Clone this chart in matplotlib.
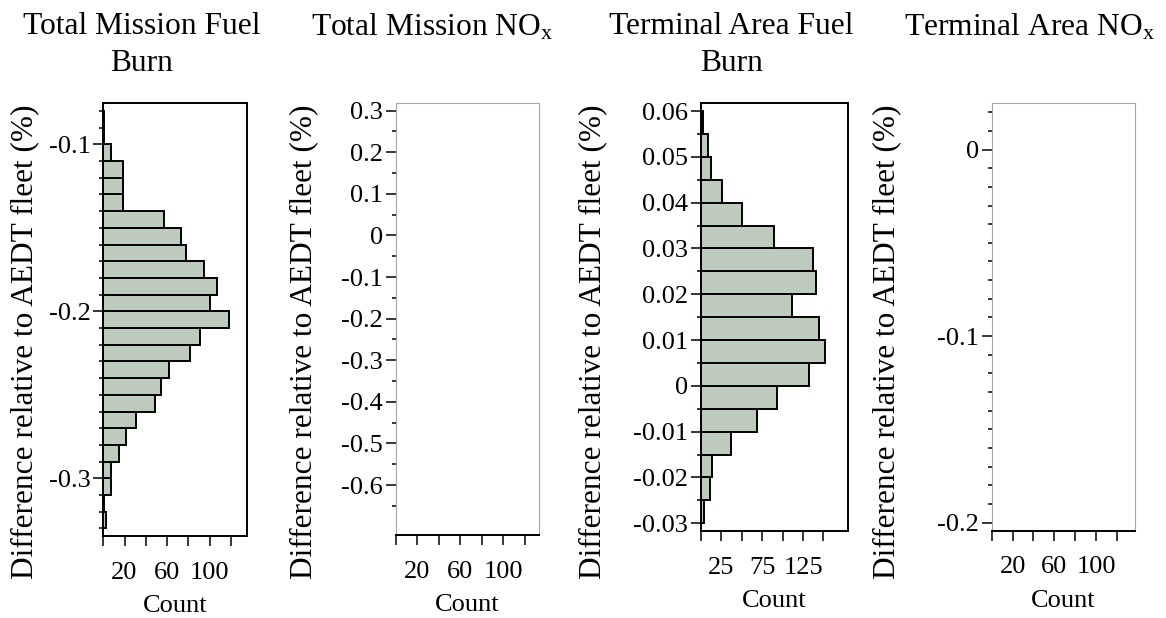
import matplotlib
matplotlib.use("Agg")
import matplotlib.pyplot as plt
from matplotlib.ticker import FixedLocator, FuncFormatter

plt.rcParams['font.family'] = ['Liberation Serif', 'DejaVu Serif']
plt.rcParams['mathtext.fontset'] = 'custom'
plt.rcParams['mathtext.rm'] = 'Liberation Serif'
plt.rcParams['mathtext.it'] = 'Liberation Serif:italic'
plt.rcParams['axes.unicode_minus'] = False

# ---- text -------------------------------------------------------------
titles = ["Total Mission Fuel\nBurn",
          "Total Mission NO$_{\\mathrm{x}}$",
          "Terminal Area Fuel\nBurn",
          "Terminal Area NO$_{\\mathrm{x}}$"]
ylabel_text = "Difference relative to AEDT fleet (%)"
xlabel_text = "Count"

# ---- data: histogram bins (lower edge, %) and counts -------------------
tm_fuel_edges = [-0.33, -0.32, -0.31, -0.30, -0.29, -0.28, -0.27, -0.26, -0.25,
                 -0.24, -0.23, -0.22, -0.21, -0.20, -0.19, -0.18, -0.17, -0.16,
                 -0.15, -0.14, -0.13, -0.12, -0.11, -0.10, -0.09]
tm_fuel_counts = [3, 1, 7, 7, 15, 21, 31, 49, 54, 62, 82, 91, 118, 100, 107,
                  95, 78, 73, 57, 19, 19, 19, 7, 1, 1]
tm_fuel_binwidth = 0.01

tm_nox_edges = []
tm_nox_counts = []

ta_fuel_edges = [-0.030, -0.025, -0.020, -0.015, -0.010, -0.005, 0.000, 0.005,
                 0.010, 0.015, 0.020, 0.025, 0.030, 0.035, 0.040, 0.045,
                 0.050, 0.055]
ta_fuel_counts = [4, 11, 14, 37, 69, 93, 132, 152, 144, 112, 141, 137, 89, 51,
                  26, 12, 9, 3]
ta_fuel_binwidth = 0.005

ta_nox_edges = []
ta_nox_counts = []

# ---- axis ticks -------------------------------------------------------
p1_yticks = [-0.3, -0.2, -0.1]
p2_yticks = [-0.6, -0.5, -0.4, -0.3, -0.2, -0.1, 0.0, 0.1, 0.2, 0.3]
p3_yticks = [-0.03, -0.02, -0.01, 0.0, 0.01, 0.02, 0.03, 0.04, 0.05, 0.06]
p4_yticks = [-0.2, -0.1, 0.0]
count_ticks_20 = [0, 20, 40, 60, 80, 100, 120]
count_labels_20 = ["", "20", "", "60", "", "100", ""]
count_ticks_25 = [0, 25, 50, 75, 100, 125, 150]
count_labels_25 = ["", "25", "", "75", "", "125", ""]

W, H = 1166, 618
fig = plt.figure(figsize=(W / 100, H / 100), dpi=100)


def box(l, r, t, b):
    return [l / W, (H - b) / H, (r - l) / W, (b - t) / H]


BAR_COLOR = '#bccbbc'
FS_TICK = 19
FS_TITLE = 22.7

panels = [
    dict(rect=box(103.3, 246.7, 103.3, 536.0), ylim=(-0.3345, -0.0754),
         yticks=p1_yticks, minor_start=-0.33, minor_stop=-0.08, minor_step=0.01,
         xlim=(0, 135), xticks=count_ticks_20, xlabels=count_labels_20,
         edges=tm_fuel_edges, counts=tm_fuel_counts, bw=tm_fuel_binwidth,
         dark=True, title_x=141.7, ylabel_x=25),
    dict(rect=box(395.7, 539.3, 102.7, 535.0), ylim=(-0.72, 0.319),
         yticks=p2_yticks, minor_start=-0.65, minor_stop=0.25, minor_step=0.1,
         xlim=(0, 133.6), xticks=count_ticks_20, xlabels=count_labels_20,
         edges=tm_nox_edges, counts=tm_nox_counts, bw=0.05,
         dark=False, title_x=432.5, ylabel_x=304),
    dict(rect=box(700.7, 848.0, 103.3, 531.0), ylim=(-0.0317, 0.0617),
         yticks=p3_yticks, minor_start=-0.025, minor_stop=0.055, minor_step=0.01,
         xlim=(0, 180), xticks=count_ticks_25, xlabels=count_labels_25,
         edges=ta_fuel_edges, counts=ta_fuel_counts, bw=ta_fuel_binwidth,
         dark=True, title_x=731.7, ylabel_x=593),
    dict(rect=box(991.7, 1135.3, 102.7, 530.7), ylim=(-0.2043, 0.0251),
         yticks=p4_yticks, minor_start=-0.19, minor_stop=0.02, minor_step=0.01,
         xlim=(0, 137.5), xticks=count_ticks_20, xlabels=count_labels_20,
         edges=ta_nox_edges, counts=ta_nox_counts, bw=0.01,
         dark=False, title_x=1029, ylabel_x=887),
]


def fmt(v, _pos=None):
    v = round(v, 6)
    if v == 0:
        return "0"
    return f"{v:g}"


for i, p in enumerate(panels):
    ax = fig.add_axes(p['rect'])
    if len(p['counts']):
        ax.barh(p['edges'], p['counts'], height=p['bw'], align='edge',
                color=BAR_COLOR, edgecolor='black', linewidth=1.4, zorder=2)
    ax.set_ylim(*p['ylim'])
    ax.set_xlim(*p['xlim'])

    ax.yaxis.set_major_locator(FixedLocator(p['yticks']))
    ax.yaxis.set_major_formatter(FuncFormatter(fmt))
    n = int(round((p['minor_stop'] - p['minor_start']) / p['minor_step'])) + 1
    minors = [p['minor_start'] + k * p['minor_step'] for k in range(n)]
    ax.yaxis.set_minor_locator(FixedLocator(minors))

    ax.set_xticks(p['xticks'])
    ax.set_xticklabels(p['xlabels'])

    ax.tick_params(axis='y', which='major', direction='out', length=7.2,
                   width=1.1, pad=2, labelsize=FS_TICK, colors='black')
    ax.tick_params(axis='y', which='minor', direction='out', length=3.0,
                   width=1.1)
    ax.tick_params(axis='x', which='major', direction='out', length=7.5,
                   width=1.1, pad=11, labelsize=FS_TICK)

    if p['dark']:
        for s in ax.spines.values():
            s.set_color('black')
            s.set_linewidth(1.4)
    else:
        for name in ('left', 'top', 'right'):
            ax.spines[name].set_color('#a6a6a6')
            ax.spines[name].set_linewidth(0.8)
        ax.spines['bottom'].set_color('black')
        ax.spines['bottom'].set_linewidth(1.4)

    ax.set_xlabel(xlabel_text, fontsize=FS_TICK, labelpad=8)

    fig.text(p['title_x'] / W, 1 - 11.6 / H, titles[i], ha='center', va='top',
             fontsize=FS_TITLE, linespacing=1.38)
    fig.text(p['ylabel_x'] / W, 1 - 342 / H, ylabel_text, ha='center',
             va='center', rotation=90, fontsize=22.5)

fig.savefig("out.png", dpi=100, facecolor='white')
